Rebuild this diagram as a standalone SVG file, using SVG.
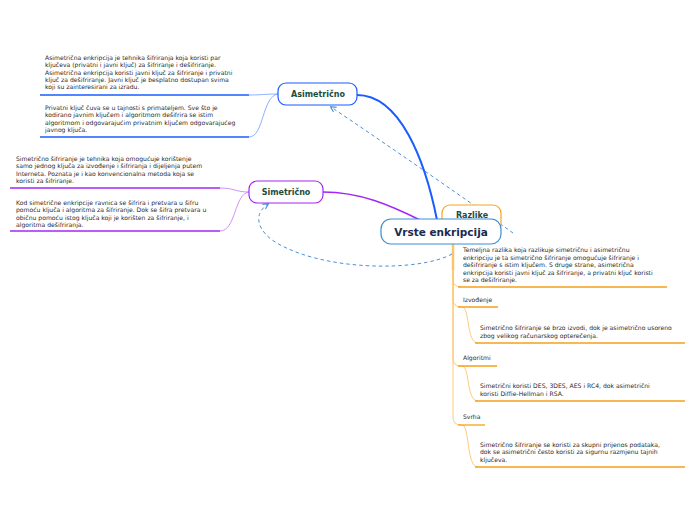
<svg xmlns="http://www.w3.org/2000/svg" width="696" height="520" viewBox="0 0 696 520">
<style>
.t{font-family:"DejaVu Sans",Verdana,sans-serif;font-size:6.1px;fill:#2a2a2a}
.lbl{font-family:"DejaVu Sans",Verdana,sans-serif;font-size:8px;font-weight:bold;fill:#1b4d3e;text-anchor:middle}
.ctr{font-family:"DejaVu Sans",Verdana,sans-serif;font-size:10.5px;font-weight:bold;fill:#1a2a50;text-anchor:middle}
.node{fill:#fff;stroke-width:1.2}
.ub{stroke:#1a5cff;stroke-width:1.5;fill:none}
.up{stroke:#a326f5;stroke-width:1.5;fill:none}
.uo{stroke:#f5a01a;stroke-width:1.3;fill:none}
.cb{stroke:#6f9cff;stroke-width:0.8;fill:none}
.cp{stroke:#c277f7;stroke-width:0.8;fill:none}
.co{stroke:#fcc46a;stroke-width:0.9;fill:none}
.dash{stroke:#4a90d9;stroke-width:1;stroke-dasharray:3.5,3;fill:none}
</style>
<defs>
<marker id="arr" viewBox="0 0 10 10" refX="8" refY="5" markerWidth="7" markerHeight="7" orient="auto-start-reverse">
<path d="M1,1 L9,5 L1,9" fill="none" stroke="#4a90d9" stroke-width="1.6"/>
</marker>
</defs>
<rect width="696" height="520" fill="#fff"/>
<g id="connectors">
<path d="M437,220 C425,160 400,95 357,95" stroke="#1a5cff" stroke-width="2" fill="none"/>
<path d="M422,221 C390,205 360,192 323,192" stroke="#a326f5" stroke-width="1.6" fill="none"/>
<path class="cb" d="M278,94 C265,94 262,95 249,95"/>
<path class="cb" d="M278,94 C262,96 264,137 249,137"/>
<path class="cp" d="M249,192 C236,192 234,188 220,188"/>
<path class="cp" d="M249,192 C234,194 236,231 220,231"/>
<path d="M453,232 L453,270" stroke="#fcc46a" stroke-width="2.5" fill="none"/>
<path class="co" d="M453,232 L453,279 Q453,287 461,287"/>
<path class="co" d="M453,232 L453,299 Q453,307 461,307"/>
<path class="co" d="M453,232 L453,358 Q453,366 461,366"/>
<path class="co" d="M453,232 L453,417 Q453,425 461,425"/>
<path class="co" d="M462,307 C470,307 466,343 478,343"/>
<path class="co" d="M462,366 C470,366 466,401 478,401"/>
<path class="co" d="M462,425 C470,425 466,467 478,467"/>
<path class="dash" d="M513,233 C460,195 380,140 331,107" marker-end="url(#arr)"/>
<path class="dash" d="M452,254 C420,272 320,272 272,240 C254,226 256,212 268,204" marker-end="url(#arr)"/>
</g>
<g id="asim-child1">
<text class="t"><tspan x="45" y="60">Asimetrična enkripcija je tehnika šifriranja koja koristi par</tspan><tspan x="45" y="67">ključeva (privatni i javni ključ) za šifriranje i dešifriranje.</tspan><tspan x="45" y="75">Asimetrična enkripcija koristi javni ključ za šifriranje i privatni</tspan><tspan x="45" y="82">ključ za dešifriranje. Javni ključ je besplatno dostupan svima</tspan><tspan x="45" y="89">koji su zainteresirani za izradu.</tspan></text>
<line class="ub" x1="40" y1="95" x2="249" y2="95"/>
</g>
<g id="asim-child2">
<text class="t"><tspan x="45" y="110">Privatni ključ čuva se u tajnosti s primateljem. Sve što je</tspan><tspan x="45" y="117">kodirano javnim ključem i algoritmom dešifrira se istim</tspan><tspan x="45" y="125">algoritmom i odgovarajućim privatnim ključem odgovarajućeg</tspan><tspan x="45" y="132">javnog ključa.</tspan></text>
<line class="ub" x1="40" y1="137" x2="249" y2="137"/>
</g>
<g id="sim-child1">
<text class="t"><tspan x="16" y="161">Simetrično šifriranje je tehnika koja omogućuje korištenje</tspan><tspan x="16" y="168">samo jednog ključa za izvođenje i šifriranja i dijeljenja putem</tspan><tspan x="16" y="176">Interneta. Poznata je i kao konvencionalna metoda koja se</tspan><tspan x="16" y="183">koristi za šifriranje.</tspan></text>
<line class="up" x1="10" y1="188" x2="220" y2="188"/>
</g>
<g id="sim-child2">
<text class="t"><tspan x="16" y="205">Kod simetrične enkripcije ravnica se šifrira i pretvara u šifru</tspan><tspan x="16" y="212">pomoću ključa i algoritma za šifriranje. Dok se šifra pretvara u</tspan><tspan x="16" y="220">običnu pomoću istog ključa koji je korišten za šifriranje, i</tspan><tspan x="16" y="227">algoritma dešifriranja.</tspan></text>
<line class="up" x1="10" y1="231" x2="220" y2="231"/>
</g>
<g id="razlike-child1">
<text class="t"><tspan x="463" y="252">Temeljna razlika koja razlikuje simetričnu i asimetričnu</tspan><tspan x="463" y="260">enkripciju je ta simetrično šifriranje omogućuje šifriranje i</tspan><tspan x="463" y="267">dešifriranje s istim ključem. S druge strane, asimetrična</tspan><tspan x="463" y="275">enkripcija koristi javni ključ za šifriranje, a privatni ključ koristi</tspan><tspan x="463" y="282">se za dešifriranje.</tspan></text>
<line class="uo" x1="458" y1="287" x2="667" y2="287"/>
</g>
<g id="izvodenje">
<text class="t" x="463" y="302">Izvođenje</text>
<line class="uo" x1="458" y1="307" x2="498" y2="307"/>
</g>
<g id="izvodenje-child">
<text class="t"><tspan x="480" y="330">Simetrično šifriranje se brzo izvodi, dok je asimetrično usoreno</tspan><tspan x="480" y="338">zbog velikog računarskog opterečenja.</tspan></text>
<line class="uo" x1="475" y1="343" x2="685" y2="343"/>
</g>
<g id="algoritmi">
<text class="t" x="463" y="360">Algoritmi</text>
<line class="uo" x1="458" y1="366" x2="497" y2="366"/>
</g>
<g id="algoritmi-child">
<text class="t"><tspan x="480" y="388">Simetrični koristi DES, 3DES, AES i RC4, dok asimetrični</tspan><tspan x="480" y="396">koristi Diffie-Hellman i RSA.</tspan></text>
<line class="uo" x1="475" y1="401" x2="685" y2="401"/>
</g>
<g id="svrha">
<text class="t" x="463" y="419">Svrha</text>
<line class="uo" x1="458" y1="425" x2="485" y2="425"/>
</g>
<g id="svrha-child">
<text class="t"><tspan x="480" y="447">Simetrično šifriranje se koristi za skupni prijenos podataka,</tspan><tspan x="480" y="454">dok se asimetrični često koristi za sigurnu razmjenu tajnih</tspan><tspan x="480" y="462">ključeva.</tspan></text>
<line class="uo" x1="475" y1="467" x2="685" y2="467"/>
</g>
<g id="asimetricno">
<rect class="node" x="278" y="83" width="79" height="22" rx="8" stroke="#1a5cff"/>
<text class="lbl" x="318" y="97">Asimetrično</text>
</g>
<g id="simetricno">
<rect class="node" x="249" y="181" width="74" height="22" rx="8" stroke="#a326f5"/>
<text class="lbl" x="286" y="195">Simetrično</text>
</g>
<g id="razlike">
<rect class="node" x="442" y="205" width="59" height="28" rx="8" stroke="#f5a623"/>
<text class="lbl" x="472" y="218">Razlike</text>
</g>
<g id="central">
<rect class="node" x="381" y="219" width="120" height="25" rx="10" stroke="#3a8fd5"/>
<text class="ctr" x="441" y="236">Vrste enkripcija</text>
</g>
</svg>
